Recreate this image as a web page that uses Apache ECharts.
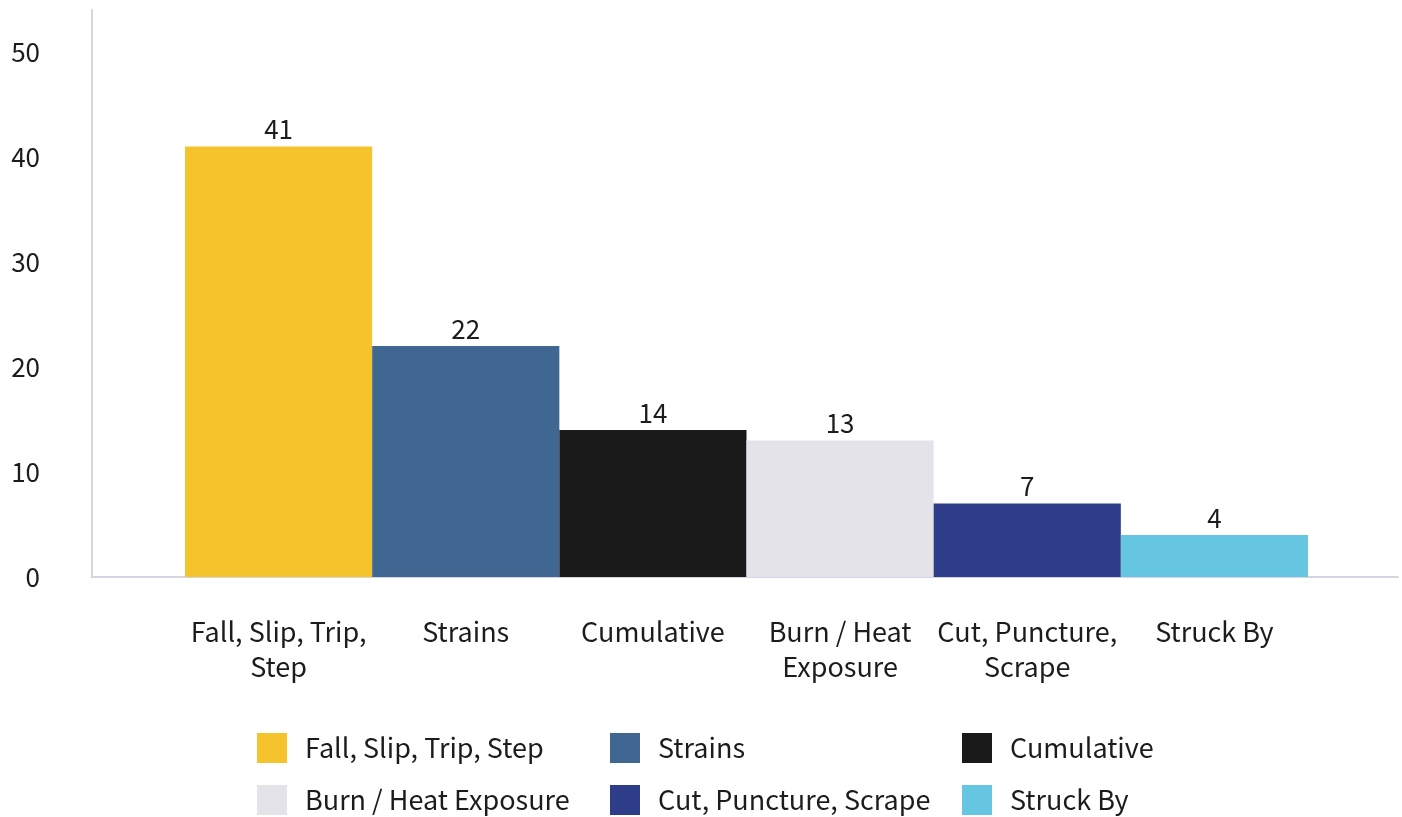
<!DOCTYPE html>
<html>
<head>
<meta charset="utf-8">
<script src="https://cdn.jsdelivr.net/npm/echarts@6/dist/echarts.min.js"></script>
<style>
html,body{margin:0;padding:0;background:#ffffff;}
#chart{width:1402px;height:817px;}
</style>
</head>
<body>
<div id="chart"></div>
<script>
// ---- data ----
const categories = ["Fall, Slip, Trip, Step", "Strains", "Cumulative", "Burn / Heat Exposure", "Cut, Puncture, Scrape", "Struck By"];
const axisLabels = ["Fall, Slip, Trip,\nStep", "Strains", "Cumulative", "Burn / Heat\nExposure", "Cut, Puncture,\nScrape", "Struck By"];
const values = [41, 22, 14, 13, 7, 4];
const yTicks = [0, 10, 20, 30, 40, 50];

// ---- styles ----
const colors = ["#F5C42C", "#3F6791", "#1A1A1A", "#E4E3E9", "#2E3D8A", "#66C6E1"];
const FONT = "'Noto Sans CJK SC', 'Noto Sans', sans-serif";
const TEXT = "#1c1c1c";
const AXIS = "#d5d5e0";

const series = categories.map((name, i) => ({
  name: name,
  type: "bar",
  xAxisIndex: 0,
  yAxisIndex: 0,
  stack: "all",
  barWidth: "100%",
  itemStyle: { color: colors[i] },
  label: {
    show: true, position: "top", distance: 4,
    fontFamily: FONT, fontSize: 26, color: TEXT,
    formatter: p => p.value
  },
  emphasis: { disabled: true },
  data: values.map((v, j) => (j === i ? v : "-"))
}));

// legend: 3 columns x 2 rows
const legendLeft = [252, 605, 957];
const legendTop = [728, 780];
const legends = categories.map((name, i) => ({
  data: [name],
  left: legendLeft[i % 3],
  top: legendTop[Math.floor(i / 3)],
  itemWidth: 30, itemHeight: 30,
  icon: "rect",
  selectedMode: false,
  textStyle: { fontFamily: FONT, fontSize: 27, color: TEXT, padding: [0, 0, 0, 13] }
}));

const chart = echarts.init(document.getElementById("chart"), null, { renderer: "canvas" });
chart.setOption({
  backgroundColor: "#ffffff",
  animation: false,
  legend: legends,
  grid: [
    { left: 185, right: 94, top: 52, bottom: 240, containLabel: false },
    { left: 92, right: 4, top: 10, bottom: 240, containLabel: false }
  ],
  xAxis: [
    {
      type: "category", gridIndex: 0, data: axisLabels, boundaryGap: true,
      axisLine: { show: false }, axisTick: { show: false },
      axisLabel: { fontFamily: FONT, fontSize: 27, color: TEXT, margin: 37, lineHeight: 35, interval: 0, align: "center" }
    },
    {
      type: "value", gridIndex: 1, min: 0, max: 1,
      axisLine: { show: true, lineStyle: { color: AXIS, width: 2 } },
      axisTick: { show: false }, axisLabel: { show: false }, splitLine: { show: false }
    }
  ],
  yAxis: [
    {
      type: "value", gridIndex: 0, min: yTicks[0], max: yTicks[yTicks.length - 1], interval: 10,
      axisLine: { show: false }, axisTick: { show: false }, splitLine: { show: false },
      axisLabel: { fontFamily: FONT, fontSize: 26, color: TEXT, margin: 145 }
    },
    {
      type: "value", gridIndex: 1, min: 0, max: 1,
      axisLine: { show: true, lineStyle: { color: AXIS, width: 2 } },
      axisTick: { show: false }, axisLabel: { show: false }, splitLine: { show: false }
    }
  ],
  series: series
});
</script>
</body>
</html>
